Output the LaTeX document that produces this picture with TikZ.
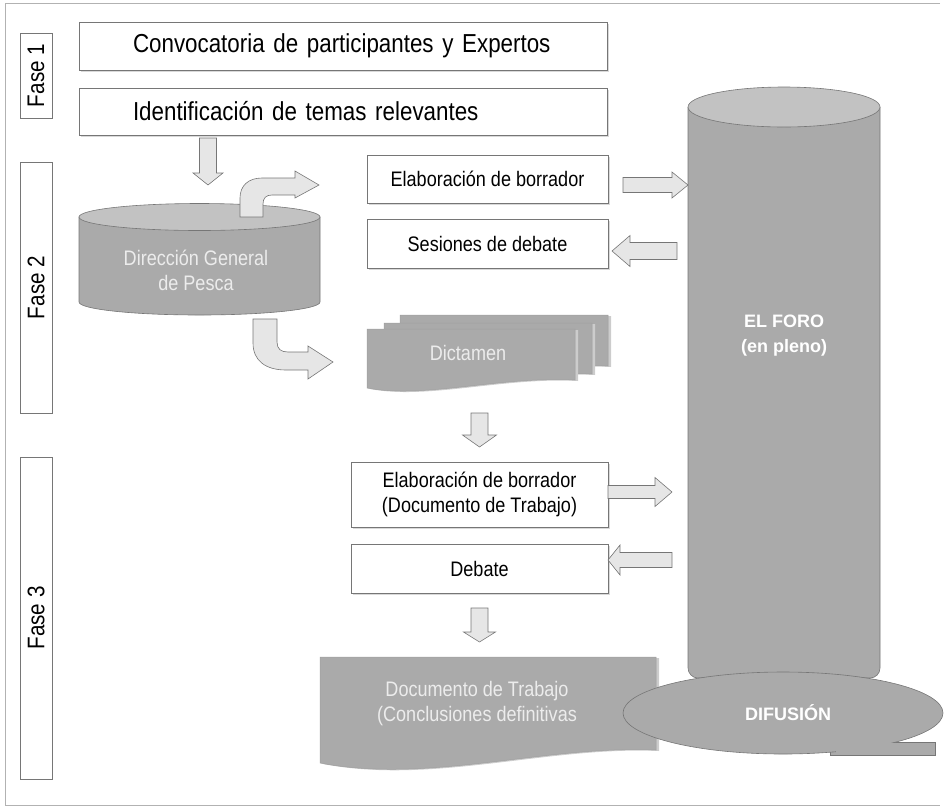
\documentclass[tikz,border=0pt]{standalone}
\usepackage{fontspec}
\setmainfont{Liberation Sans}[FakeStretch=0.86]
\newfontfamily\boldsans{Liberation Sans}
\usetikzlibrary{calc,positioning,shadows}

\definecolor{cylgray}{RGB}{170,170,170}
\definecolor{topgray}{RGB}{194,194,194}
\definecolor{edgegray}{RGB}{118,118,118}
\definecolor{arrowfill}{RGB}{230,230,230}
\definecolor{textpale}{RGB}{236,236,236}

\tikzset{
  fat/.style args={#1/#2/#3}{fatfill,
    to path={($(\tikztotarget)!#3!(\tikztostart)$) coordinate (fb)
      ($(\tikztostart)!#1!90:(\tikztotarget)$) -- ($(fb)!#1!90:(\tikztotarget)$)
      -- ($(fb)!#2!90:(\tikztotarget)$) -- (\tikztotarget)
      -- ($(fb)!#2!-90:(\tikztotarget)$) -- ($(fb)!#1!-90:(\tikztotarget)$)
      -- ($(\tikztostart)!#1!-90:(\tikztotarget)$) -- cycle}}
}

\begin{document}
\begin{tikzpicture}
  [x=1pt, y=-1pt,
   every node/.style={inner sep=0pt, outer sep=0pt},
   fasebox/.style={draw=edgegray, rotate=90, minimum height=32pt, font=\fontsize{24}{26}\selectfont},
   stepbox/.style={draw=edgegray, fill=white, align=center, font=\fontsize{21}{25}\selectfont,
     drop shadow={shadow xshift=2pt, shadow yshift=-2pt, fill=black!15, opacity=1}},
   topbox/.style={stepbox, text width=420pt, inner xsep=54pt, align=left, font=\fontsize{26}{30}\selectfont},
   cylbody/.style={draw=edgegray, fill=cylgray, line width=.6pt},
   cyltop/.style={draw=edgegray, fill=topgray, line width=.6pt},
   docbox/.style={draw=edgegray!70, fill=cylgray, line width=.5pt,
     drop shadow={shadow xshift=3pt, shadow yshift=-1pt, fill=black!20, opacity=1}},
   fatfill/.style={draw=edgegray, fill=arrowfill, line width=.6pt, line join=miter},
   palefont/.style={text=textpale, align=center, font=\fontsize{21}{25}\selectfont},
   boldfont/.style={text=white, align=center, font=\boldsans\bfseries\fontsize{18}{25}\selectfont}]

  \useasboundingbox (0,0) rectangle (944,807);
  \draw[gray!60, line width=.6pt] (940,3) -- (5,3) -- (5,805) -- (940,805);

  % fases
  \node[fasebox, minimum width=85pt] (fase1) at (36,75.5) {Fase 1};
  \node[fasebox, minimum width=251pt] (fase2) at (36,287.5) {Fase 2};
  \node[fasebox, minimum width=322pt] (fase3) at (36,618) {Fase 3};

  % fase 1
  \node[topbox, minimum height=48pt] (convoca) at (343,46) {Convocatoria de participantes y Expertos};
  \node[topbox, minimum height=47pt, below=18pt of convoca] (identifica) {Identificación de temas relevantes};

  % direccion general
  \draw[cylbody] (79,217) -- (79,302) arc[start angle=180, end angle=0, x radius=120.5, y radius=13] -- (320,217) -- cycle;
  \draw[cyltop] (199.5,217) ellipse [x radius=120.5, y radius=13.5];

  % dictamen y documento
  \foreach \dx/\dy in {33/-14, 17/-6, 0/0}
    \draw[docbox, shift={(\dx,\dy)}] (367,329) -- (575,329) -- (575,380)
      .. controls (500,376) and (425,399) .. (367,388) -- cycle;
  \draw[docbox] (320,657) -- (656,657) -- (656,750)
    .. controls (545,745) and (430,784) .. (320,763) -- cycle;

  % el foro y difusion
  \draw[cylbody, rounded corners=10pt] (688,107) -- (688,678) -- (880,678) -- (880,107);
  \draw[cyltop] (784,107) ellipse [x radius=96, y radius=20];
  \draw[cylbody] (830,742) rectangle (935,755);
  \draw[cylbody] (783,713) ellipse [x radius=160, y radius=41];
  \fill[cylgray] (836,743) rectangle (934.4,754.4);

  \node[palefont] (dgp) at (196,270.5) {Dirección General\\de Pesca};
  \node[palefont] (dictamen) at (468,353) {Dictamen};
  \node[palefont] (documento) at (477,703.5) {Documento de Trabajo\\(Conclusiones definitivas};
  \node[boldfont, minimum width=192pt] (foro) at (784,335.5) {EL FORO\\(en pleno)};
  \node[boldfont] (difusion) at (788,713) {DIFUSIÓN};

  % fase 2 y 3
  \node[stepbox, minimum width=241pt, minimum height=48pt] (elab1) at (487.5,179) {Elaboración de borrador};
  \node[stepbox, minimum width=241pt, minimum height=49pt, below=16pt of elab1] (sesiones) {Sesiones de debate};
  \node[stepbox, minimum width=257pt, minimum height=65pt] (elab2) at (479.5,494.5) {Elaboración de borrador\\(Documento de Trabajo)};
  \node[stepbox, minimum width=257pt, minimum height=49pt, below=17pt of elab2] (debate) {Debate};

  % flechas
  \coordinate (d1a) at ($(identifica.south)+(-135,3)$);
  \coordinate (d1b) at ($(d1a)+(0,47)$);
  \draw[fat=8.5pt/15pt/12pt] (d1a) to (d1b);

  \draw[fatfill] (240,217) -- (240,198) .. controls (240,186) and (248,178) .. (262,178) -- (295,178)
    -- (295,171) -- (319,185) -- (295,198) -- (295,195) -- (272,195)
    .. controls (266,195) and (263,198) .. (263,204) -- (263,217) -- cycle;
  \draw[fatfill] (253,319) -- (253,343) .. controls (253,361) and (266,370) .. (286,370) -- (308,370)
    -- (308,379) -- (333,362) -- (308,346) -- (308,352) -- (288,352)
    .. controls (281,352) and (277,349) .. (277,342) -- (277,319) -- cycle;

  \coordinate (r1a) at ($(elab1.east)+(15,6)$);
  \coordinate (r1b) at (r1a -| foro.west);
  \draw[fat=7.5pt/13pt/16pt] (r1a) to (r1b);
  \coordinate (l1b) at ($(sesiones.east)+(4,7.5)$);
  \coordinate (l1a) at ($(l1b)+(65,0)$);
  \draw[fat=8.5pt/15.5pt/18pt] (l1a) to (l1b);

  \coordinate (d2b) at ($(elab2.north)+(0,-15)$);
  \coordinate (d2a) at ($(d2b)+(0,-34)$);
  \draw[fat=8.5pt/17pt/12pt] (d2a) to (d2b);

  \coordinate (r2a) at ($(elab2.east)+(0,-2.5)$);
  \coordinate (r2b) at ($(r2a)+(64,0)$);
  \draw[fat=6.5pt/14.5pt/17pt] (r2a) to (r2b);
  \coordinate (l2b) at ($(debate.east)+(0,-8.5)$);
  \coordinate (l2a) at ($(l2b)+(64,0)$);
  \draw[fat=7.5pt/15pt/12pt] (l2a) to (l2b);

  \coordinate (d3a) at ($(debate.south)+(0,15)$);
  \coordinate (d3b) at ($(d3a)+(0,34)$);
  \draw[fat=8.5pt/16pt/10pt] (d3a) to (d3b);
\end{tikzpicture}
\end{document}
